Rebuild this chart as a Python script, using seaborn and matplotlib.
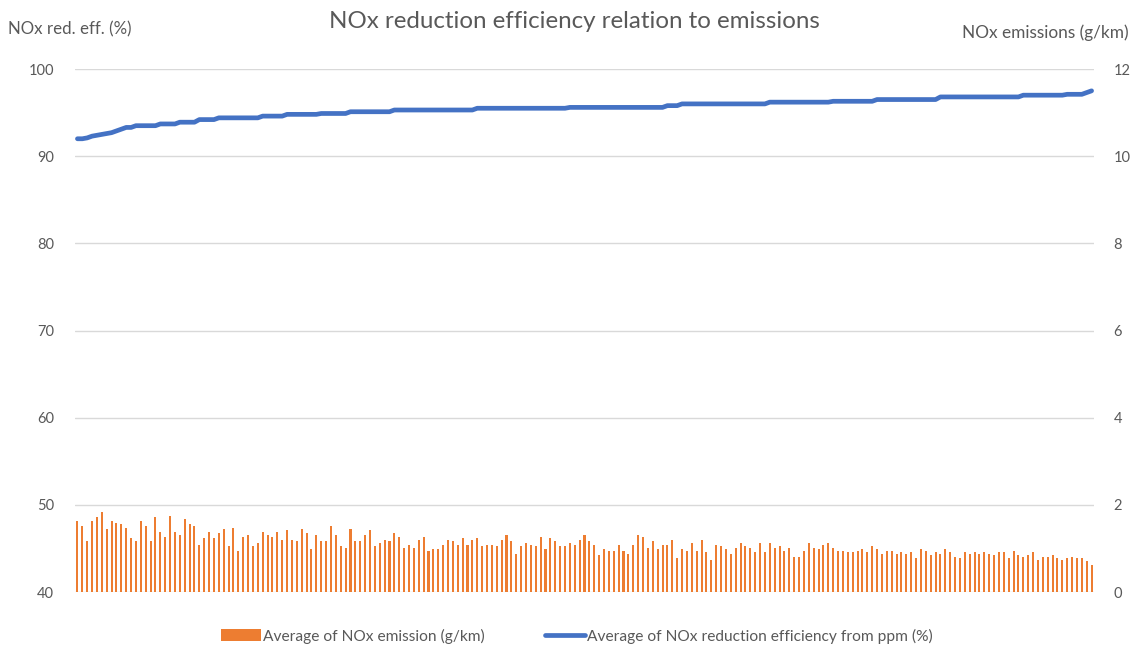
import matplotlib
matplotlib.use("Agg")
import matplotlib.pyplot as plt
import seaborn as sns
import pandas as pd

# Average NOx emission per sample (g/km), right axis
emission = [
    1.63, 1.52, 1.16, 1.63, 1.71, 1.84, 1.45, 1.63, 1.59, 1.55,
    1.48, 1.23, 1.16, 1.63, 1.52, 1.16, 1.71, 1.38, 1.27, 1.74,
    1.38, 1.31, 1.67, 1.55, 1.52, 1.09, 1.23, 1.38, 1.23, 1.35,
    1.45, 1.06, 1.48, 0.95, 1.27, 1.31, 1.06, 1.13, 1.38, 1.31,
    1.27, 1.38, 1.20, 1.42, 1.20, 1.16, 1.45, 1.35, 0.99, 1.31,
    1.16, 1.16,
    1.52, 1.31, 1.06, 1.02, 1.45, 1.16, 1.16, 1.31, 1.42, 1.06,
    1.13, 1.20, 1.16, 1.35, 1.27, 1.02, 1.09, 1.02, 1.20, 1.27,
    0.95, 0.99, 0.99, 1.09, 1.20, 1.16, 1.09, 1.23, 1.09, 1.20,
    1.23, 1.06, 1.09, 1.09, 1.06, 1.20, 1.31, 1.16, 0.88, 1.06,
    1.13, 1.09, 1.06, 1.27, 0.99, 1.23, 1.16, 1.06, 1.06,
    1.13, 1.09, 1.20, 1.31, 1.16, 1.09, 0.84, 0.99, 0.95, 0.95,
    1.09, 0.95, 0.88, 1.09, 1.31, 1.27, 1.02, 1.16, 0.99, 1.09,
    1.09, 1.20, 0.77, 0.99, 0.95, 1.13, 0.95, 1.20, 0.91, 0.73,
    1.09, 1.06, 0.99, 0.88, 1.02, 1.13, 1.06, 1.02, 0.91, 1.13,
    0.91, 1.13, 1.02, 1.06, 0.95, 1.02, 0.80, 0.80, 0.95, 1.13,
    1.02, 0.99,
    1.09, 1.13, 1.02, 0.95, 0.95, 0.91, 0.91, 0.95, 0.99, 0.91,
    1.06, 0.99, 0.88, 0.95, 0.95, 0.88, 0.91, 0.88, 0.91, 0.77,
    0.99, 0.95, 0.84, 0.91, 0.88, 0.99, 0.91, 0.80, 0.77, 0.91,
    0.88, 0.91, 0.88, 0.91, 0.88, 0.84, 0.91, 0.91, 0.77, 0.95,
    0.84, 0.80, 0.84, 0.91, 0.73, 0.80, 0.80, 0.84, 0.77, 0.73,
    0.77, 0.80, 0.77, 0.77, 0.70, 0.63,
]

# Average NOx reduction efficiency from ppm (%), left axis
efficiency = [
    92.0, 92.0, 92.1, 92.3, 92.4, 92.5, 92.6, 92.7, 92.9, 93.1,
    93.3, 93.3, 93.5, 93.5, 93.5, 93.5, 93.5, 93.7, 93.7, 93.7,
    93.7, 93.9, 93.9, 93.9, 93.9, 94.2, 94.2, 94.2, 94.2, 94.4,
    94.4, 94.4, 94.4, 94.4, 94.4, 94.4, 94.4, 94.4, 94.6, 94.6,
    94.6, 94.6, 94.6, 94.8, 94.8, 94.8, 94.8, 94.8, 94.8, 94.8,
    94.9, 94.9, 94.9, 94.9, 94.9, 94.9, 95.1, 95.1, 95.1, 95.1,
    95.1, 95.1, 95.1, 95.1, 95.1, 95.3, 95.3, 95.3, 95.3, 95.3,
    95.3, 95.3, 95.3, 95.3, 95.3, 95.3, 95.3, 95.3, 95.3, 95.3,
    95.3, 95.3, 95.5, 95.5, 95.5, 95.5, 95.5, 95.5, 95.5, 95.5,
    95.5, 95.5, 95.5, 95.5, 95.5, 95.5, 95.5, 95.5, 95.5, 95.5,
    95.5, 95.6, 95.6, 95.6, 95.6, 95.6, 95.6, 95.6, 95.6, 95.6,
    95.6, 95.6, 95.6, 95.6, 95.6, 95.6, 95.6, 95.6, 95.6, 95.6,
    95.6, 95.8, 95.8, 95.8, 96.0, 96.0, 96.0, 96.0, 96.0, 96.0,
    96.0, 96.0, 96.0, 96.0, 96.0, 96.0, 96.0, 96.0, 96.0, 96.0,
    96.0, 96.0, 96.2, 96.2, 96.2, 96.2, 96.2, 96.2, 96.2, 96.2,
    96.2, 96.2, 96.2, 96.2, 96.2, 96.3, 96.3, 96.3, 96.3, 96.3,
    96.3, 96.3, 96.3, 96.3, 96.5, 96.5, 96.5, 96.5, 96.5, 96.5,
    96.5, 96.5, 96.5, 96.5, 96.5, 96.5, 96.5, 96.8, 96.8, 96.8,
    96.8, 96.8, 96.8, 96.8, 96.8, 96.8, 96.8, 96.8, 96.8, 96.8,
    96.8, 96.8, 96.8, 96.8, 97.0, 97.0, 97.0, 97.0, 97.0, 97.0,
    97.0, 97.0, 97.0, 97.1, 97.1, 97.1, 97.1, 97.3, 97.5,
]

left_ticks = [40, 50, 60, 70, 80, 90, 100]
right_ticks = [0, 2, 4, 6, 8, 10, 12]

bar_label = "Average of NOx emission (g/km)"
line_label = "Average of NOx reduction efficiency from ppm (%)"

df = pd.DataFrame({
    "sample": list(range(len(emission))),
    "emission": emission,
    "efficiency": efficiency,
})

sns.set_theme(style="white")
plt.rcParams["font.family"] = ["Lato", "DejaVu Sans"]

TXT = "#595959"
GRID = "#D9D9D9"

fig = plt.figure(figsize=(11.33, 6.47), dpi=100)
ax = fig.add_axes([0.0662, 0.085, 0.8994, 0.8083])
ax2 = ax.twinx()

# bars on the secondary (right) axis, behind the efficiency line
sns.barplot(data=df, x="sample", y="emission", ax=ax2, color="#ED7D31",
            saturation=1, width=0.42, linewidth=0, label=bar_label)
sns.lineplot(data=df, x="sample", y="efficiency", ax=ax, color="#4472C4",
             linewidth=3.4, label=line_label)

ax.set_zorder(ax2.get_zorder() + 1)
ax.patch.set_visible(False)

n = len(emission)
for a in (ax, ax2):
    a.set_xlim(-0.5, n - 0.5)
    a.set_xticks([])
    a.set_xlabel("")
    a.set_ylabel("")
    for s in a.spines.values():
        s.set_visible(False)

ax.set_ylim(40, 100)
ax.set_yticks(left_ticks)
ax2.set_ylim(0, 12)
ax2.set_yticks(right_ticks)
# gridlines live on the back axis so they sit under the bars
ax.yaxis.grid(False)
ax2.set_axisbelow(True)
ax2.yaxis.grid(True, color=GRID, linewidth=1.0)

ax.tick_params(axis="y", length=0, pad=15, labelsize=10.5, labelcolor=TXT)
ax2.tick_params(axis="y", length=0, pad=14, labelsize=10.5, labelcolor=TXT)

fig.text(0.507, 0.967, "NOx reduction efficiency relation to emissions",
         ha="center", va="center", fontsize=17.4, color=TXT)
fig.text(0.007, 0.955, "NOx red. eff. (%)", ha="left", va="center",
         fontsize=12.2, color=TXT)
fig.text(0.996, 0.949, "NOx emissions (g/km)", ha="right", va="center",
         fontsize=12.4, color=TXT)

h1, l1 = ax2.get_legend_handles_labels()
h2, l2 = ax.get_legend_handles_labels()
for a in (ax, ax2):
    if a.get_legend() is not None:
        a.get_legend().remove()
leg = fig.legend(h1 + h2, l1 + l2, loc="center", bbox_to_anchor=(0.509, 0.017),
                 ncol=2, frameon=False, fontsize=11.2, handlelength=2.6,
                 handleheight=0.75, columnspacing=3.9, handletextpad=0.1)
for t in leg.get_texts():
    t.set_color(TXT)

fig.savefig("out.png", dpi=100)
